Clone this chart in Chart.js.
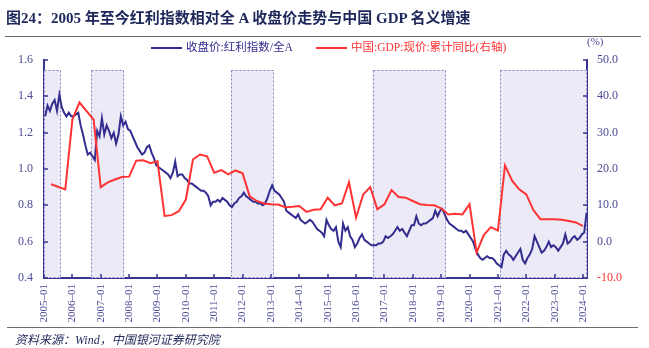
<!DOCTYPE html>
<html>
<head>
<meta charset="utf-8">
<script src="https://cdn.jsdelivr.net/npm/chart.js@4.4.0/dist/chart.umd.min.js"></script>
<style>
  body { margin: 0; background: #fff; }
  #wrap { position: relative; width: 649px; height: 348px; overflow: hidden;
          font-family: "Liberation Serif", "Noto Sans CJK SC", serif; }
  #c { position: absolute; left: 0; top: 0; }
  .title { position: absolute; left: 6px; top: 6px; font-size: 15px; font-weight: bold;
           color: #1d2759; white-space: nowrap; }
  .rule { position: absolute; height: 1px; background: #6e6e6e; }
  .legend { position: absolute; top: 41px; font-size: 11.5px; white-space: nowrap; line-height: 13px; }
  .swatch { position: absolute; top: 47px; height: 2px; }
  .unit { position: absolute; left: 587px; top: 35px; font-size: 11px; color: #4b4a96; }
  .source { position: absolute; left: 15px; top: 330px; font-size: 12px; font-style: italic;
            color: #1d2759; white-space: nowrap; }
</style>
</head>
<body>
<div id="wrap">
  <canvas id="c" width="649" height="348"></canvas>
  <div class="title">图24：2005 年至今红利指数相对全 A 收盘价走势与中国 GDP 名义增速</div>
  <div class="rule" style="left:5px; width:636px; top:36px;"></div>
  <div class="swatch" style="left:151px; width:31px; background:#332d8f;"></div>
  <div class="legend" style="left:186px; color:#332d8f;">收盘价:红利指数/全A</div>
  <div class="swatch" style="left:316px; width:31px; background:#ff3333;"></div>
  <div class="legend" style="left:351px; color:#ff3333;">中国:GDP:现价:累计同比(右轴)</div>
  <div class="unit">(%)</div>
  <div class="rule" style="left:7px; width:631px; top:327px;"></div>
  <div class="source">资料来源：Wind，中国银河证券研究院</div>
</div>
<script>
// Dividend index / all-A close ratio, monthly from ratioStart
const ratioStart = [2005, 1];
const ratioValues = [
  1.29, 1.35, 1.32, 1.36, 1.38, 1.32, 1.41, 1.34, 1.31, 1.29, 1.31, 1.29, // 2005
  1.29, 1.30, 1.31, 1.24, 1.19, 1.13, 1.08, 1.09, 1.07, 1.05, 1.21, 1.18, // 2006
  1.28, 1.19, 1.24, 1.21, 1.17, 1.20, 1.14, 1.19, 1.29, 1.24, 1.26, 1.22, // 2007
  1.21, 1.18, 1.15, 1.12, 1.10, 1.08, 1.09, 1.12, 1.13, 1.09, 1.06, 1.02, // 2008
  1.01, 1.00, 0.99, 0.98, 0.97, 0.95, 0.98, 1.04, 0.96, 0.97, 0.97, 0.95, // 2009
  0.94, 0.92, 0.92, 0.91, 0.90, 0.89, 0.88, 0.88, 0.87, 0.85, 0.80, 0.82, // 2010
  0.82, 0.83, 0.82, 0.84, 0.83, 0.82, 0.80, 0.79, 0.81, 0.82, 0.84, 0.85, // 2011
  0.87, 0.85, 0.84, 0.83, 0.82, 0.82, 0.81, 0.81, 0.80, 0.81, 0.84, 0.88, // 2012
  0.91, 0.88, 0.87, 0.86, 0.84, 0.82, 0.77, 0.76, 0.75, 0.74, 0.73, 0.75, // 2013
  0.72, 0.71, 0.70, 0.71, 0.72, 0.71, 0.69, 0.67, 0.66, 0.65, 0.63, 0.72, // 2014
  0.69, 0.67, 0.66, 0.68, 0.60, 0.57, 0.70, 0.66, 0.68, 0.63, 0.61, 0.57, // 2015
  0.59, 0.62, 0.64, 0.61, 0.60, 0.59, 0.58, 0.58, 0.58, 0.59, 0.59, 0.60, // 2016
  0.63, 0.62, 0.63, 0.64, 0.66, 0.68, 0.66, 0.67, 0.65, 0.63, 0.66, 0.69, // 2017
  0.69, 0.74, 0.70, 0.69, 0.70, 0.70, 0.71, 0.72, 0.73, 0.77, 0.74, 0.77, // 2018
  0.78, 0.75, 0.72, 0.70, 0.69, 0.68, 0.67, 0.66, 0.66, 0.65, 0.66, 0.64, // 2019
  0.62, 0.60, 0.56, 0.53, 0.51, 0.50, 0.51, 0.52, 0.51, 0.51, 0.50, 0.48, // 2020
  0.47, 0.46, 0.53, 0.55, 0.53, 0.52, 0.50, 0.52, 0.54, 0.56, 0.50, 0.48, // 2021
  0.51, 0.53, 0.56, 0.63, 0.60, 0.57, 0.54, 0.55, 0.57, 0.60, 0.57, 0.58, // 2022
  0.57, 0.55, 0.57, 0.59, 0.64, 0.59, 0.60, 0.62, 0.63, 0.61, 0.62, 0.64, // 2023
  0.65, 0.76                                                              // 2024
];

// China nominal GDP, cumulative YoY (%), quarter-end months
const gdpQuarters = [
  '2005-03','2005-09','2005-12',
  '2006-03','2006-09','2006-12',
  '2007-03','2007-06','2007-09','2007-12',
  '2008-03','2008-06','2008-09','2008-12',
  '2009-03','2009-06','2009-09','2009-12',
  '2010-03','2010-06','2010-09','2010-12',
  '2011-03','2011-06','2011-09','2011-12',
  '2012-03','2012-06','2012-09','2012-12',
  '2013-03','2013-06','2013-09','2013-12',
  '2014-03','2014-06','2014-09','2014-12',
  '2015-03','2015-06','2015-09','2015-12',
  '2016-03','2016-06','2016-09','2016-12',
  '2017-03','2017-06','2017-09','2017-12',
  '2018-03','2018-06','2018-09','2018-12',
  '2019-03','2019-06','2019-09','2019-12',
  '2020-03','2020-06','2020-09','2020-12',
  '2021-03','2021-06','2021-09','2021-12',
  '2022-03','2022-06','2022-09','2022-12',
  '2023-03','2023-06','2023-09','2023-12'
];
const gdpValues = [
  15.8, 14.4, 33.6,
  38.3, 33.6, 15.0,
  16.3, 17.1, 17.8, 17.9,
  22.3, 22.4, 21.6, 22.1,
  7.1, 7.3, 8.4, 11.6,
  22.6, 24.0, 23.5, 19.0,
  19.7, 18.5, 19.6, 18.8,
  12.5, 11.2, 10.5, 10.3,
  10.2, 9.5, 9.6, 9.8,
  8.2, 8.8, 8.9, 12.1,
  10.0, 10.5, 16.4, 6.6,
  13.0, 15.0, 8.9, 10.3,
  14.2, 12.3, 12.1, 11.2,
  10.3, 10.1, 10.0, 9.2,
  7.5, 7.7, 7.5, 10.3,
  -3.0, 1.8, 4.0, 3.1,
  21.0, 16.8, 14.4, 13.0,
  8.7, 6.2, 6.2, 6.2,
  6.0, 5.7, 5.3, 4.3
];

// Shaded periods (first month, last month)
const shadeFrom = ['2005-01', '2006-09', '2011-08', '2016-08', '2021-02'];
const shadeTo   = ['2005-08', '2007-11', '2013-02', '2019-03', '2024-03'];
const shadeTop = 1.545;

// Axis ticks
const xTickYears = [2005, 2006, 2007, 2008, 2009, 2010, 2011, 2012, 2013, 2014,
                    2015, 2016, 2017, 2018, 2019, 2020, 2021, 2022, 2023, 2024];
const xMin = 2005, xMax = 2024.14;

const BLUE = '#332d8f';
const RED = '#ff3333';
const AXIS = '#3a3590';
const LABEL = '#4b4a96';

const ym = s => { const [y, m] = s.split('-').map(Number); return [y, m]; };

const ratioData = ratioValues.map((v, i) => {
  const idx = ratioStart[1] - 1 + i;
  const y = ratioStart[0] + Math.floor(idx / 12), m = idx % 12;
  return { x: y + (m + 0.5) / 12, y: v };
});
const gdpData = gdpQuarters.map((q, i) => {
  const [y, m] = ym(q);
  return { x: y + m / 12, y: gdpValues[i] };
});

// Lavender boxes with dashed outline behind the lines
const shadePlugin = {
  id: 'shade',
  beforeDatasetsDraw(chart) {
    const { ctx, chartArea: a, scales } = chart;
    ctx.save();
    shadeFrom.forEach((f, i) => {
      const [y1, m1] = ym(f), [y2, m2] = ym(shadeTo[i]);
      let x1 = scales.x.getPixelForValue(y1 + (m1 - 1) / 12);
      let x2 = scales.x.getPixelForValue(y2 + (m2 - 1) / 12);
      x1 = Math.max(x1, a.left); x2 = Math.min(x2, a.right);
      const top = scales.y.getPixelForValue(shadeTop);
      const bot = a.bottom;
      ctx.fillStyle = '#ebeaf6';
      ctx.fillRect(x1, top, x2 - x1, bot - top);
      ctx.strokeStyle = '#8481c2';
      ctx.lineWidth = 1;
      ctx.setLineDash([2, 2]);
      ctx.strokeRect(Math.round(x1) + 0.5, Math.round(top) + 0.5,
                     Math.round(x2 - x1) - 1, Math.round(bot - top) - 1);
    });
    ctx.restore();
  }
};

// Short tick marks pointing into the plot area
const inwardTicks = {
  id: 'inwardTicks',
  afterDatasetsDraw(chart) {
    const { ctx, chartArea: a, scales } = chart;
    ctx.save();
    ctx.strokeStyle = AXIS;
    ctx.lineWidth = 1.5;
    ctx.setLineDash([]);
    const seg = (x1, y1, x2, y2) => { ctx.beginPath(); ctx.moveTo(x1, y1); ctx.lineTo(x2, y2); ctx.stroke(); };
    scales.y.ticks.forEach(t => { const p = Math.round(scales.y.getPixelForValue(t.value)); seg(a.left, p, a.left + 4, p); });
    scales.y2.ticks.forEach(t => { const p = Math.round(scales.y2.getPixelForValue(t.value)); seg(a.right - 4, p, a.right, p); });
    scales.x.ticks.forEach(t => { const p = Math.round(scales.x.getPixelForValue(t.value)); seg(p, a.bottom - 4, p, a.bottom); });
    ctx.restore();
  }
};

const tickFont = { family: '"Liberation Serif", serif', size: 12 };

new Chart(document.getElementById('c'), {
  type: 'line',
  data: {
    datasets: [
      { label: '收盘价:红利指数/全A', data: ratioData, yAxisID: 'y', borderColor: BLUE,
        borderWidth: 2, pointRadius: 0, tension: 0, order: 2 },
      { label: '中国:GDP:现价:累计同比(右轴)', data: gdpData, yAxisID: 'y2', borderColor: RED,
        borderWidth: 2, pointRadius: 0, tension: 0, order: 1 }
    ]
  },
  options: {
    responsive: false,
    animation: false,
    events: [],
    layout: { padding: { top: 60, left: 0, right: 0, bottom: 0 } },
    plugins: { legend: { display: false }, tooltip: { enabled: false }, title: { display: false } },
    scales: {
      x: {
        type: 'linear', min: xMin, max: xMax,
        afterFit: s => { s.height = 70; },
        afterBuildTicks: s => { s.ticks = xTickYears.map(v => ({ value: v })); },
        grid: { display: false, drawTicks: false },
        border: { display: true, color: AXIS, width: 2 },
        ticks: { autoSkip: false, minRotation: 90, maxRotation: 90, padding: 6,
                 color: LABEL, font: { family: '"Liberation Serif", serif', size: 11 },
                 callback: v => v + '–01' }
      },
      y: {
        position: 'left', min: 0.4, max: 1.6,
        afterFit: s => { s.width = 44; },
        grid: { display: false, drawTicks: false },
        border: { display: true, color: AXIS, width: 2 },
        ticks: { stepSize: 0.2, padding: 11, color: LABEL, font: tickFont,
                 callback: v => v.toFixed(1) }
      },
      y2: {
        position: 'right', min: -10, max: 50,
        afterFit: s => { s.width = 62; },
        grid: { display: false, drawTicks: false },
        border: { display: true, color: AXIS, width: 2 },
        ticks: { stepSize: 10, padding: 10, font: tickFont,
                 color: c => (c.tick && c.tick.value < 0 ? RED : LABEL),
                 callback: v => v.toFixed(1) }
      }
    }
  },
  plugins: [shadePlugin, inwardTicks]
});
</script>
</body>
</html>
